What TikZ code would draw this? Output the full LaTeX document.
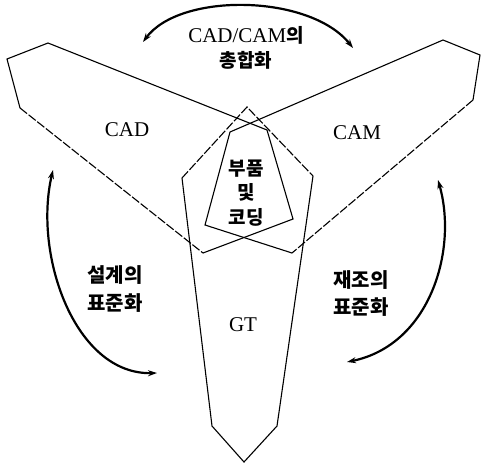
\documentclass[tikz,border=0pt]{standalone}
\usepackage{fontspec}
\setmainfont{Liberation Serif}
\newfontfamily\kr{Noto Sans CJK KR}
\newcommand\krt[1]{{\kr\bfseries\fontsize{19}{25}\selectfont #1}}
\usetikzlibrary{arrows.meta}
\begin{document}
\begin{tikzpicture}[x=1pt,y=-1pt,
  wing/.style={line width=1.1pt, line join=miter},
  dsh/.style={wing, dash pattern=on 9pt off 2pt},
  flow/.style={line width=2.2pt, {Stealth[length=9pt,width=6pt]}-{Stealth[length=9pt,width=6pt]}},
  lat/.style={font=\fontsize{21}{25}\selectfont, align=center, inner sep=0pt},
  kor/.style={align=center, inner sep=0pt},
]
\useasboundingbox (0,0) rectangle (481,466);
% CAD wing
\coordinate (a1) at (48,43);
\coordinate (a2) at (7,59);
\coordinate (a3) at (20,108);
\coordinate (a4) at (203,253);
\coordinate (a5) at (293,219);
\coordinate (a6) at (267,130);
\draw[wing] (a3) -- (a2) -- (a1) -- (a6) -- (a5) -- (a4);
\draw[dsh] (a3) -- (a4);
% CAM wing
\coordinate (b1) at (443,40);
\coordinate (b2) at (480,55);
\coordinate (b3) at (473,100);
\coordinate (b4) at (292,253);
\coordinate (b5) at (205,225);
\coordinate (b6) at (230,132);
\draw[wing] (b3) -- (b2) -- (b1) -- (b6) -- (b5) -- (b4);
\draw[dsh] (b3) -- (b4);
% GT wing
\coordinate (g1) at (247,107);
\coordinate (g2) at (313,176);
\coordinate (g3) at (277,426);
\coordinate (g4) at (244,462);
\coordinate (g5) at (212,426);
\coordinate (g6) at (182,178);
\draw[wing] (g2) -- (g3) -- (g4) -- (g5) -- (g6);
\draw[dsh] (g6) -- (g1) -- (g2);
% labels
\node[lat] (cadcam) at (246,48) {CAD/CAM\krt{의}\\\krt{총합화}};
\node[lat] (cad) at (127,130) {CAD};
\node[lat] (cam) at (357,133) {CAM};
\node[lat] (gt) at (243,325) {GT};
\node[kor, font=\kr\bfseries\fontsize{19}{24.5}\selectfont] (part) at (246,193) {부품\\및\\코딩};
\node[kor, font=\kr\bfseries\fontsize{20}{28}\selectfont] (design) at (115,289) {설계의\\표준화};
\node[kor, font=\kr\bfseries\fontsize{20}{27}\selectfont] (manu) at (361,293) {재조의\\표준화};
% arrows
\coordinate (t1) at (143,42);
\coordinate (t2) at (353,48);
\coordinate (l1) at (53,170);
\coordinate (l2) at (157,373);
\coordinate (r1) at (438,180);
\coordinate (r2) at (347,362);
\draw[flow] (t1) .. controls (180,-8) and (310,-6) .. (t2);
\draw[flow] (l1) .. controls (33,255) and (75,375) .. (l2);
\draw[flow] (r1) .. controls (458,250) and (430,345) .. (r2);
\end{tikzpicture}
\end{document}
